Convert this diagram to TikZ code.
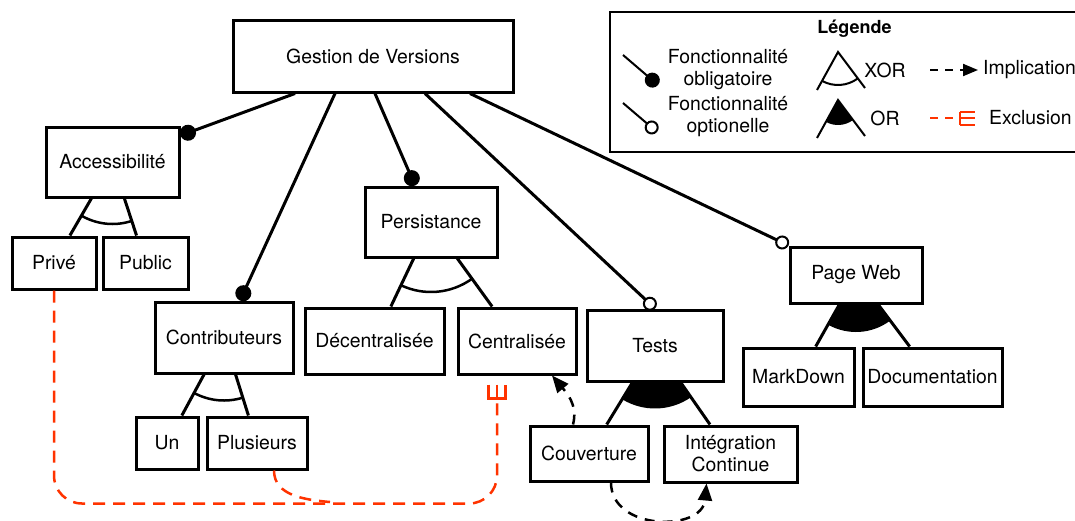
\documentclass[tikz,border=0pt]{standalone}
\usepackage{fontspec}
\setmainfont{TeX Gyre Heros}
\usepackage{tikz}
\usetikzlibrary{arrows.meta,angles,backgrounds}
\definecolor{exred}{HTML}{FF3300}

\begin{document}
\begin{tikzpicture}[x=1pt,y=1pt]
	\tikzstyle{every node}+=[font=\fontsize{19.4pt}{22pt}\selectfont]
	\tikzstyle{feature}=[draw, line width=3pt, fill=white, inner sep=0pt, align=center]
	\tikzstyle{leg}=[line width=3pt]
	\tikzstyle{mand}=[line width=3pt, -{Circle[length=16pt,width=16pt]}]
	\tikzstyle{opt}=[line width=3pt, -{Circle[length=14pt,width=14pt,fill=white,line width=2pt]}]
	\tikzstyle{impl}=[line width=2.5pt, dash pattern=on 10pt off 8pt, -{Triangle[length=17pt,width=14pt]}]
	\tikzstyle{excl}=[exred, line width=2.5pt, dash pattern=on 12pt off 8pt]
	\tikzstyle{exmark}=[exred, line width=2.5pt]
	\tikzstyle{legline}=[line width=2pt]
	\useasboundingbox (0,0) rectangle (1075,-520);
	\node[feature, minimum width=280pt, minimum height=72pt] (root) at (373,-56) {Gestion de Versions};
	\node[feature, minimum width=133pt, minimum height=70pt] (acc) at (112.5,-162) {Accessibilité};
	\node[feature, minimum width=84pt, minimum height=52pt] (prive) at (54,-263) {Privé};
	\node[feature, minimum width=85pt, minimum height=52pt] (public) at (145.5,-263) {Public};
	\node[feature, minimum width=132pt, minimum height=70pt] (pers) at (431,-222) {Persistance};
	\node[feature, minimum width=138pt, minimum height=71pt] (contrib) at (224,-337.5) {Contributeurs};
	\node[feature, minimum width=139pt, minimum height=66pt] (decent) at (374.5,-341) {Décentralisée};
	\node[feature, minimum width=118pt, minimum height=66pt] (cent) at (517,-341) {Centralisée};
	\node[feature, minimum width=136pt, minimum height=71pt] (tests) at (655,-345.5) {Tests};
	\node[feature, minimum width=132pt, minimum height=56pt] (pageweb) at (856,-275) {Page Web};
	\node[feature, minimum width=111pt, minimum height=58pt] (markdown) at (798.5,-377) {MarkDown};
	\node[feature, minimum width=139pt, minimum height=58pt] (doc) at (932.5,-377) {Documentation};
	\node[feature, minimum width=62pt, minimum height=52pt] (un) at (167,-443) {Un};
	\node[feature, minimum width=100pt, minimum height=52pt] (plus) at (257,-443) {Plusieurs};
	\node[feature, minimum width=118pt, minimum height=55pt] (couv) at (589,-453.5) {Couverture};
	\node[feature, minimum width=133pt, minimum height=56pt] (integ) at (730.5,-454) {Intégration\\Continue};
	\begin{scope}[on background layer]
	\draw[leg] (acc) -- (prive);
	\draw[leg] (acc) -- (public);
	\pic[draw, line width=2.5pt, angle radius=62pt] {angle=prive--acc--public};
	\draw[leg] (contrib) -- (un);
	\draw[leg] (contrib) -- (plus);
	\pic[draw, line width=2.5pt, angle radius=63pt] {angle=un--contrib--plus};
	\draw[leg] (pers) -- (decent);
	\draw[leg] (pers) -- (cent);
	\pic[draw, line width=2.5pt, angle radius=70pt] {angle=decent--pers--cent};
	\pic[fill=black, angle radius=63pt] {angle=couv--tests--integ};
	\draw[leg] (tests) -- (couv);
	\draw[leg] (tests) -- (integ);
	\pic[fill=black, angle radius=57pt] {angle=markdown--pageweb--doc};
	\draw[leg] (pageweb) -- (markdown);
	\draw[leg] (pageweb) -- (doc);
	\end{scope}
	\draw[mand] ([xshift=-78pt]root.south) -- ([yshift=-10pt]acc.north east);
	\draw[mand] ([xshift=-38pt]root.south) -- ([xshift=16pt]contrib.north);
	\draw[mand] ([xshift=2pt]root.south) -- ([xshift=-16pt]pers.north);
	\draw[opt] ([xshift=52pt]root.south) -- (tests.north);
	\draw[opt] ([xshift=97pt]root.south) -- (pageweb.north west);
	\draw[impl] ([xshift=-16pt]couv.north) to[out=75,in=-50] ([xshift=35pt]cent.south);
	\draw[impl] ([xshift=22pt]couv.south) to[out=-90,in=-95,looseness=1.3] ([xshift=-24pt]integ.south);
	\coordinate (xc) at ([xshift=-20pt,yshift=-9pt]cent.south);
	\coordinate (xj) at (330,-502);
	\draw[excl, rounded corners=28pt] (prive.south) -- ++(0,-213) -| ([yshift=-14pt]xc);
	\draw[excl] ([xshift=17pt]plus.south) to[out=-90,in=175] (xj);
	\draw[exmark] ([xshift=-8.5pt]xc) -- ++(0,-14) -- ++(17,0) -- ++(0,14);
	\draw[exmark] (xc) -- ++(0,-14);
	\node[draw, line width=2.5pt, minimum width=489pt, minimum height=140pt] (legend) at (854.5,-82) {};
	\node[font=\fontsize{18pt}{21pt}\selectfont\bfseries] (legtitle) at (854.5,-29) {Légende};
	\coordinate (m1) at (623,-55);
	\coordinate (m2) at (658,-85);
	\draw[legline, -{Circle[length=15pt,width=15pt]}] (m1) -- (m2);
	\node[align=center] (legmand) at (728,-70) {Fonctionnalité\\obligatoire};
	\coordinate (o1) at (623,-103);
	\coordinate (o2) at (657,-132);
	\draw[legline, -{Circle[length=14pt,width=14pt,fill=white]}] (o1) -- (o2);
	\node[align=center] (legopt) at (728,-117) {Fonctionnalité\\optionelle};
	\coordinate (xa) at (838,-52);
	\coordinate (xl) at (817,-90);
	\coordinate (xr) at (865,-88);
	\draw[legline] (xl) -- (xa) -- (xr);
	\pic[draw, legline, angle radius=33pt] {angle=xl--xa--xr};
	\node (legxor) at (885,-70) {XOR};
	\coordinate (ra) at (838,-100);
	\coordinate (rl) at (817,-138);
	\coordinate (rr) at (865,-136);
	\pic[fill=black, angle radius=25pt] {angle=rl--ra--rr};
	\draw[legline] (rl) -- (ra) -- (rr);
	\node (legor) at (885,-118) {OR};
	\coordinate (i1) at (930,-70);
	\coordinate (i2) at (978,-70);
	\draw[legline, dash pattern=on 8pt off 7pt, -{Triangle[length=15pt,width=12pt]}] (i1) -- (i2);
	\node[anchor=west, inner sep=0pt] (legimp) at (983,-70) {Implication};
	\coordinate (e1) at (930,-118);
	\coordinate (e2) at (960,-118);
	\draw[exred, legline, dash pattern=on 8pt off 7pt] (e1) -- (e2);
	\draw[exred, legline] (e2) ++(0,6.5) -- ++(0,-13);
	\draw[exred, legline] (e2) ++(0,6.5) -- ++(15,0);
	\draw[exred, legline] (e2) -- ++(15,0);
	\draw[exred, legline] (e2) ++(0,-6.5) -- ++(15,0);
	\node[anchor=west, inner sep=0pt] (legexc) at (989,-118) {Exclusion};
\end{tikzpicture}
\end{document}
